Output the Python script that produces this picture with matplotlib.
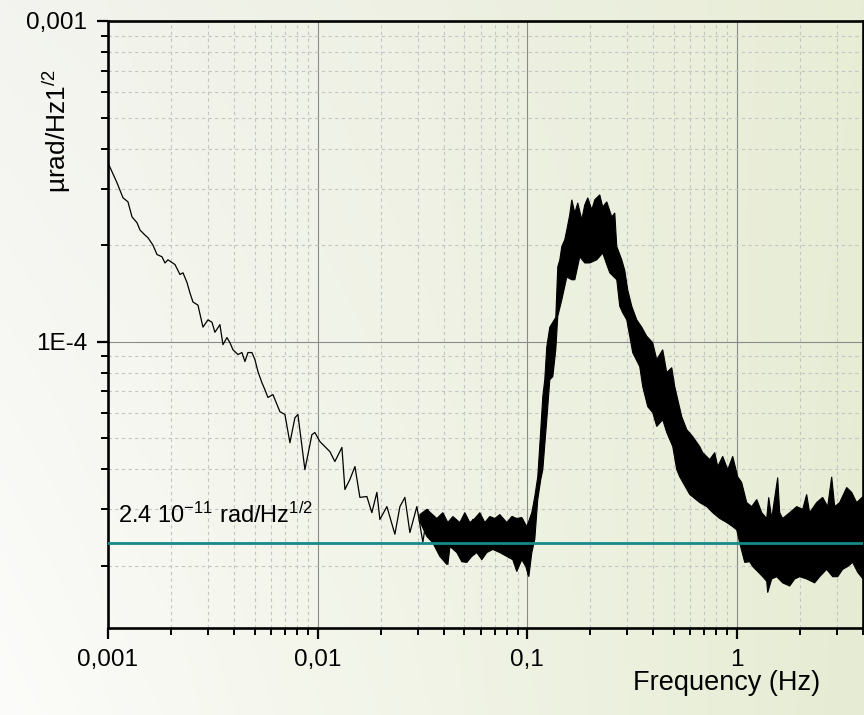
import matplotlib
matplotlib.use("Agg")
import matplotlib.pyplot as plt
import numpy as np
from matplotlib.ticker import FixedLocator, LogLocator, NullFormatter

plt.rcParams.update(
    {
        "font.family": ["Liberation Sans", "DejaVu Sans"],
        "mathtext.fontset": "custom",
        "mathtext.rm": "Liberation Sans",
        "mathtext.it": "Liberation Sans:italic",
        "mathtext.bf": "Liberation Sans:bold",
    }
)

UNIT = 1e-5  # amplitudes below are in units of 1e-5 urad/Hz^1/2

# low-frequency part of the spectrum (thin trace)
line_freq = [
    1.000e-3, 1.104e-3, 1.179e-3, 1.245e-3, 1.302e-3, 1.375e-3, 1.421e-3, 1.501e-3,
    1.551e-3, 1.639e-3, 1.713e-3, 1.809e-3, 1.870e-3, 1.932e-3, 2.087e-3, 2.205e-3,
    2.279e-3, 2.381e-3, 2.460e-3, 2.543e-3, 2.687e-3, 2.838e-3, 2.999e-3, 3.133e-3,
    3.237e-3, 3.420e-3, 3.535e-3, 3.694e-3, 3.818e-3, 3.945e-3, 4.168e-3, 4.355e-3,
    4.501e-3, 4.652e-3, 4.861e-3, 5.023e-3, 5.193e-3, 5.425e-3, 5.607e-3, 5.794e-3,
    6.121e-3, 6.610e-3, 6.982e-3, 7.378e-3, 7.794e-3, 8.054e-3, 8.698e-3, 9.393e-3,
    9.707e-3, 1.026e-2, 1.145e-2, 1.209e-2, 1.306e-2, 1.350e-2, 1.426e-2, 1.507e-2,
    1.591e-2, 1.718e-2, 1.815e-2, 1.918e-2, 1.982e-2, 2.141e-2, 2.337e-2, 2.470e-2,
    2.609e-2, 2.756e-2, 2.975e-2, 3.178e-2, 3.357e-2, 3.706e-2, 3.958e-2, 4.182e-2,
    4.418e-2, 4.876e-2, 5.040e-2, 5.504e-2, 5.943e-2, 6.633e-2, 6.855e-2, 7.401e-2,
    7.992e-2, 8.535e-2, 8.919e-2, 9.528e-2, 1.007e-1, 1.052e-1,
]
line_psd = [
    36.1, 31.3, 28.1, 27.3, 24.5, 23.5, 22.3, 21.5, 21.1, 20.0, 18.7, 18.4, 17.6, 18.0,
    17.4, 16.2, 16.4, 15.3, 14.2, 13.3, 13.0, 11.1, 11.7, 11.5, 10.7, 11.3, 9.79, 10.3,
    9.93, 9.44, 9.12, 9.25, 8.67, 9.25, 9.25, 8.79, 8.07, 7.45, 7.08, 6.70, 6.84, 6.05,
    5.93, 4.84, 5.79, 5.93, 3.99, 5.13, 5.21, 4.88, 4.54, 4.23, 4.68, 3.46, 3.72, 4.08,
    3.27, 3.29, 2.93, 3.39, 2.79, 3.06, 2.51, 3.06, 3.27, 2.54, 3.06, 2.37, 3.00, 2.25,
    2.79, 2.02, 2.79, 2.65, 2.09, 2.79, 2.20, 2.79, 2.25, 2.73, 2.30, 2.85, 1.95, 2.79,
    1.88, 2.37,
]

# dense noisy part: upper edge of the trace
upper_freq = [
    3.074e-2, 3.320e-2, 3.706e-2, 3.958e-2, 4.182e-2, 4.418e-2, 4.771e-2, 5.040e-2,
    5.324e-2, 5.625e-2, 5.943e-2, 6.278e-2, 6.633e-2, 7.008e-2, 7.401e-2, 7.992e-2,
    8.444e-2, 8.919e-2, 9.424e-2, 9.956e-2, 0.1052, 0.1087, 0.1123, 0.1161, 0.1187,
    0.1213, 0.1240, 0.1282, 0.1325, 0.1369, 0.1399, 0.1431, 0.1462, 0.1511, 0.1545,
    0.1596, 0.1632, 0.1687, 0.1743, 0.1821, 0.1882, 0.1945, 0.2033, 0.2101, 0.2219,
    0.2293, 0.2396, 0.2532, 0.2617, 0.2675, 0.2826, 0.2920, 0.3018, 0.3154, 0.3331,
    0.3519, 0.3718, 0.3971, 0.4150, 0.4432, 0.4632, 0.4894, 0.5058, 0.5460, 0.5769,
    0.6162, 0.6654, 0.6877, 0.7428, 0.7846, 0.8109, 0.8567, 0.9051, 0.9561, 1.010,
    1.055, 1.115, 1.178, 1.245, 1.315, 1.389, 1.420, 1.467, 1.567, 1.602,
    1.655, 1.788, 1.931, 2.062, 2.154, 2.226, 2.404, 2.568, 2.714, 2.836,
    2.931, 3.095, 3.344, 3.532, 3.732, 4.0,
]
upper_psd = [
    2.89, 3.00, 2.81, 2.93, 2.73, 2.85, 2.73, 2.93, 2.73, 2.81, 2.93, 2.73, 2.85, 2.81,
    2.89, 2.73, 2.85, 2.81, 2.83, 2.65, 2.93, 3.29, 3.79, 5.32, 6.75, 7.61, 9.64, 11.1,
    11.5, 11.9, 17.1, 18.0, 19.8, 20.8, 22.3, 24.9, 27.7, 25.2, 27.1, 24.0, 26.7, 28.1,
    25.8, 27.7, 28.7, 26.3, 27.3, 24.5, 25.2, 19.8, 18.0, 16.7, 14.5, 12.9, 11.7, 11.1,
    10.4, 9.93, 8.79, 9.44, 8.01, 8.30, 7.24, 5.84, 5.32, 5.06, 4.71, 4.51, 4.29, 4.51,
    4.08, 4.39, 3.99, 4.39, 3.79, 3.64, 3.15, 3.06, 3.22, 2.93, 2.81, 3.27, 2.81, 3.77,
    2.93, 2.81, 2.93, 3.06, 3.00, 3.34, 2.93, 3.15, 3.27, 3.06, 3.79, 3.06, 3.15, 3.51,
    3.39, 3.15, 3.29,
]

# dense noisy part: lower edge of the trace
lower_freq = [
    3.074e-2, 3.320e-2, 3.546e-2, 3.830e-2, 4.136e-2, 4.275e-2, 4.617e-2, 4.876e-2,
    5.152e-2, 5.442e-2, 5.750e-2, 6.074e-2, 6.417e-2, 6.855e-2, 7.401e-2, 7.992e-2,
    8.535e-2, 8.919e-2, 9.424e-2, 9.847e-2, 0.1018, 0.1052, 0.1087, 0.1123, 0.1161,
    0.1187, 0.1240, 0.1282, 0.1325, 0.1369, 0.1399, 0.1462, 0.1545, 0.1632, 0.1687,
    0.1782, 0.1882, 0.1988, 0.2147, 0.2293, 0.2396, 0.2477, 0.2675, 0.2764, 0.2857,
    0.2985, 0.3188, 0.3443, 0.3558, 0.3760, 0.3971, 0.4150, 0.4432, 0.4632, 0.4948,
    0.5169, 0.5342, 0.5962, 0.6654, 0.7187, 0.7676, 0.8289, 0.8950, 0.9561, 0.9989,
    1.032, 1.091, 1.152, 1.191, 1.258, 1.329, 1.389, 1.404, 1.467, 1.550,
    1.655, 1.788, 1.889, 1.995, 2.154, 2.352, 2.485, 2.684, 2.867, 3.028,
    3.199, 3.381, 3.571, 3.773, 4.0,
]
lower_psd = [
    2.75, 2.47, 2.36, 2.14, 2.02, 2.30, 2.20, 2.06, 2.05, 2.14, 2.20, 2.09, 2.20, 2.25,
    2.20, 2.14, 2.09, 1.92, 2.09, 1.99, 1.85, 2.20, 2.42, 3.22, 3.72, 3.99, 5.71, 7.61,
    7.78, 9.44, 12.0, 13.5, 15.9, 15.6, 15.6, 18.4, 17.6, 17.6, 18.0, 18.9, 17.4, 16.4,
    15.6, 12.9, 12.3, 11.7, 9.24, 8.36, 7.24, 6.27, 6.01, 5.44, 5.71, 5.21, 4.71, 3.99,
    3.79, 3.34, 3.15, 3.06, 2.93, 2.81, 2.73, 2.65, 2.59, 2.36, 2.05, 2.06, 1.99, 1.92,
    1.85, 1.79, 1.65, 1.82, 1.85, 1.77, 1.73, 1.82, 1.85, 1.82, 1.77, 1.85, 1.95, 1.85,
    1.85, 1.95, 1.99, 2.05, 1.91, 1.82,
]

floor_level = 2.35  # same units
floor_text = r"2.4 10$^{\mathregular{-11}}$ rad/Hz$^{\mathregular{1/2}}$"

x_ticks = [0.001, 0.01, 0.1, 1]
x_labels = ["0,001", "0,01", "0,1", "1"]
y_ticks = [1e-4, 1e-3]
y_labels = ["1E-4", "0,001"]

W, H = 864, 715
fig = plt.figure(figsize=(W / 100, H / 100), dpi=100)

# soft white -> pale green backdrop
bg = fig.add_axes([0, 0, 1, 1], zorder=-10)
tl = np.array([243, 244, 239]) / 255
tr = np.array([232, 237, 214]) / 255
bl = np.array([252, 252, 250]) / 255
br = np.array([230, 236, 211]) / 255
gx, gy = np.meshgrid(np.linspace(0, 1, 256), np.linspace(0, 1, 256))
gx, gy = gx[..., None], gy[..., None]
grad = tl * (1 - gx) * (1 - gy) + tr * gx * (1 - gy) + bl * (1 - gx) * gy + br * gx * gy
bg.imshow(grad, aspect="auto", extent=[0, 1, 0, 1])
bg.axis("off")

ax = fig.add_axes([108 / W, 1 - 628 / H, (863 - 108) / W, (628 - 21) / H])
ax.patch.set_alpha(0)
ax.set_xscale("log")
ax.set_yscale("log")
ax.set_xlim(1e-3, 4.0)
ax.set_ylim(1.28e-5, 1e-3)

ax.plot(line_freq, np.array(line_psd) * UNIT, color="black", lw=0.9, zorder=3)
band_x = upper_freq + lower_freq[::-1]
band_y = np.array(upper_psd + lower_psd[::-1]) * UNIT
ax.fill(band_x, band_y, facecolor="black", edgecolor="black", lw=0.8, zorder=3)
ax.axhline(floor_level * UNIT, color="#168a8a", lw=2.0, zorder=4)
ax.text(1.12e-3, 2.73e-5, floor_text, fontsize=17, color="black", zorder=5)

ax.xaxis.set_major_locator(FixedLocator(x_ticks))
ax.set_xticklabels(x_labels)
ax.yaxis.set_major_locator(FixedLocator(y_ticks))
ax.set_yticklabels(y_labels)
for axis in (ax.xaxis, ax.yaxis):
    axis.set_minor_locator(LogLocator(base=10, subs=np.arange(2, 10)))
    axis.set_minor_formatter(NullFormatter())

ax.grid(which="major", color="#8a8a8a", lw=0.8, ls="-")
ax.grid(which="minor", color="#c4c4c4", lw=0.8, ls=(0, (3, 3)))
ax.set_axisbelow(True)

ax.tick_params(which="major", direction="out", length=8, width=1.6, labelsize=17.5, pad=7)
ax.tick_params(which="minor", direction="out", length=5, width=1.4)
ax.tick_params(top=False, right=False)
for s in ax.spines.values():
    s.set_linewidth(1.9)

fig.text(57 / W, 1 - 131 / H, r"µrad/Hz1$^{\mathregular{/2}}$", rotation=90,
         ha="center", va="center", fontsize=19)
fig.text(820 / W, 1 - 683 / H, "Frequency (Hz)", ha="right", va="center", fontsize=19.5)

fig.savefig("out.png", dpi=100)
